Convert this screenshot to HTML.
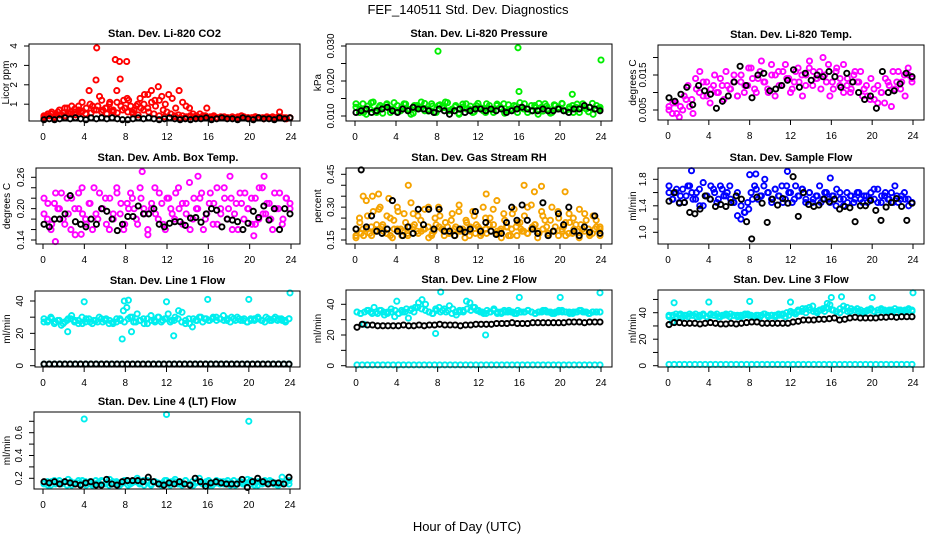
<!DOCTYPE html>
<html><head><meta charset="utf-8">
<style>
html,body{margin:0;padding:0;background:#fff;}
svg{display:block;font-family:"Liberation Sans",sans-serif;}
</style></head>
<body>
<svg id="fig" width="936" height="540" viewBox="0 0 936 540" xmlns="http://www.w3.org/2000/svg">
<text x="468" y="14" text-anchor="middle" font-size="13">FEF_140511  Std. Dev. Diagnostics</text>
<text x="467" y="531" text-anchor="middle" font-size="13">Hour of Day (UTC)</text>
</svg>
<script>
// ---------- data ----------
const xTicks = [0,4,8,12,16,20,24];

const co2Red = [0.35,0.4,0.5,0.3,0.6,0.45,0.8,0.5,0.9,0.6,0.7,1.1,0.5,1.7,0.9,2.25,1.4,0.7,0.8,1.1,0.6,1.7,2.3,1.2,1.3,0.9,0.7,1.0,0.8,1.5,1.5,1.7,1.2,1.9,1.4,1.0,1.5,1.3,0.8,1.7,1.1,0.9,0.8,0.5,0.4,0.5,0.4,0.8,0.35,0.4,0.3,0.3,0.35,0.3,0.3,0.3,0.35,0.4,0.3,0.3,0.3,0.35,0.3,0.3,0.3,0.3,0.35,0.3,0.6,0.3,0.25,0.3];
const co2RedBase = [0.3,0.4,0.35,0.45,0.4,0.5,0.45,0.6,0.5,0.55,0.7,0.6,0.5,0.65,0.55,0.7,0.6,0.5,0.45,0.7,0.6,0.5,0.4,0.35,0.3,0.35,0.3,0.3,0.35,0.3,0.3,0.3,0.3,0.3,0.3,0.3,0.3,0.3,0.3,0.3,0.3,0.3,0.25,0.3,0.3,0.3,0.3,0.3];
const co2RedB = [0.4,0.5,0.6,0.45,0.7,0.55,0.8,0.6,0.75,0.9,0.65,0.8,1.0,0.7,0.9,1.2,0.8,1.0,0.7,1.1,0.9,0.8,1.2,0.6,0.9,1.3,1.0,0.8,1.1,0.9,1.2,0.7,0.6,0.5,0.4,0.45,0.4,0.35,0.4,0.35,0.3,0.35,0.4,0.3,0.35,0.3,0.35,0.3,0.3,0.35,0.3,0.3,0.35,0.3,0.3,0.35,0.3,0.3,0.35,0.3,0.3,0.35,0.3,0.3,0.3];
const co2OutT = [5.2,7.0,7.4,8.1];
const co2OutV = [3.9,3.3,3.2,3.2];
const co2Black = [0.2,0.25,0.2,0.25,0.3,0.25,0.3,0.25,0.2,0.3,0.25,0.3,0.25,0.3,0.25,0.2,0.2,0.25,0.3,0.25,0.3,0.25,0.2,0.25,0.3,0.25,0.2,0.25,0.2,0.25,0.25,0.3,0.2,0.25,0.3,0.25,0.25,0.2,0.3,0.25,0.2,0.3,0.25,0.25,0.2,0.3,0.25,0.3];

const presGreen = [0.0125,0.011,0.0135,0.0105,0.012,0.014,0.011,0.013,0.0125,0.0135,0.011,0.012,0.013,0.0115,0.0135,0.012,0.0105,0.013,0.0125,0.014,0.0115,0.012,0.0135,0.011,0.013,0.0125,0.014,0.0115,0.012,0.013,0.0105,0.0125,0.0135,0.012,0.011,0.013,0.0125,0.0115,0.0135,0.012,0.011,0.013,0.0125,0.0135,0.0115,0.012,0.013,0.011,0.0125,0.0135,0.012,0.0115,0.013,0.0105,0.0125,0.0135,0.012,0.011,0.013,0.0125,0.0135,0.0115,0.012,0.013,0.0125,0.011,0.0135,0.012,0.0125,0.0105,0.013,0.012];
const presGreenB = [0.0135,0.012,0.011,0.0128,0.0138,0.0115,0.0125,0.0108,0.0132,0.012,0.0138,0.0112,0.0126,0.0134,0.0118,0.0108,0.013,0.0122,0.0136,0.0114,0.0128,0.011,0.0132,0.0124,0.0138,0.0116,0.0126,0.0108,0.0134,0.012,0.0128,0.0112,0.0136,0.0122,0.011,0.013,0.0118,0.0134,0.0124,0.0108,0.0132,0.0116,0.0128,0.0138,0.012,0.011,0.013,0.0124,0.0136,0.0114,0.0128,0.0108,0.0132,0.012,0.0136,0.0116,0.0126,0.011,0.0134,0.0122,0.0128,0.0112,0.0136,0.012,0.0125];
const presOutT = [8.1,15.9,16.0,21.2,24.0];
const presOutV = [0.0285,0.0295,0.017,0.0162,0.026];
const presBlack = [0.011,0.0115,0.012,0.011,0.0115,0.012,0.0125,0.0115,0.011,0.012,0.0115,0.0125,0.012,0.012,0.0115,0.011,0.012,0.0115,0.0105,0.0115,0.012,0.011,0.0115,0.012,0.012,0.0115,0.012,0.0115,0.012,0.011,0.0115,0.012,0.0125,0.012,0.0115,0.0115,0.012,0.0115,0.0115,0.012,0.0115,0.011,0.012,0.012,0.013,0.0125,0.012,0.0115];

const tempMag = [0.006,0.004,0.007,0.003,0.005,0.008,0.006,0.004,0.011,0.016,0.009,0.013,0.007,0.012,0.010,0.014,0.008,0.012,0.011,0.015,0.009,0.013,0.010,0.012,0.017,0.011,0.014,0.019,0.013,0.010,0.015,0.009,0.016,0.012,0.018,0.014,0.011,0.016,0.013,0.009,0.015,0.017,0.012,0.014,0.016,0.020,0.013,0.009,0.011,0.017,0.014,0.018,0.012,0.010,0.015,0.013,0.016,0.011,0.009,0.014,0.008,0.012,0.010,0.007,0.013,0.006,0.011,0.016,0.013,0.009,0.015,0.014];
const tempMagB = [0.005,0.007,0.004,0.006,0.009,0.012,0.008,0.014,0.010,0.013,0.009,0.011,0.015,0.010,0.012,0.016,0.011,0.013,0.009,0.015,0.012,0.017,0.014,0.010,0.016,0.013,0.011,0.018,0.015,0.012,0.016,0.014,0.010,0.013,0.017,0.015,0.012,0.019,0.016,0.014,0.011,0.015,0.018,0.013,0.016,0.012,0.010,0.014,0.011,0.016,0.013,0.009,0.012,0.008,0.011,0.007,0.010,0.014,0.012,0.016,0.013,0.011,0.015,0.017,0.013];
const tempBlack = [0.0085,0.0075,0.0095,0.0115,0.0065,0.012,0.0105,0.0095,0.0055,0.0075,0.009,0.013,0.0175,0.012,0.0085,0.015,0.0155,0.0105,0.011,0.012,0.0135,0.0165,0.0115,0.0155,0.0135,0.015,0.0145,0.016,0.0145,0.0115,0.0155,0.013,0.010,0.008,0.009,0.0055,0.016,0.010,0.0105,0.0125,0.0155,0.0145];

const ambMag = [0.22,0.18,0.16,0.21,0.2,0.23,0.17,0.19,0.22,0.15,0.2,0.24,0.18,0.21,0.16,0.19,0.23,0.2,0.17,0.22,0.18,0.24,0.19,0.16,0.21,0.23,0.2,0.17,0.22,0.19,0.15,0.2,0.24,0.18,0.21,0.16,0.22,0.19,0.23,0.2,0.17,0.21,0.25,0.18,0.2,0.22,0.16,0.19,0.23,0.21,0.17,0.2,0.24,0.18,0.22,0.19,0.16,0.21,0.23,0.2,0.17,0.22,0.18,0.24,0.19,0.21,0.16,0.2,0.23,0.18,0.22,0.2];
const ambMagB = [0.19,0.21,0.17,0.23,0.2,0.18,0.22,0.16,0.2,0.23,0.19,0.17,0.21,0.24,0.18,0.2,0.22,0.16,0.19,0.23,0.21,0.17,0.2,0.22,0.18,0.24,0.2,0.16,0.21,0.19,0.23,0.17,0.22,0.2,0.18,0.24,0.21,0.19,0.16,0.22,0.2,0.23,0.18,0.21,0.17,0.24,0.19,0.22,0.2,0.16,0.21,0.23,0.18,0.2,0.22,0.17,0.24,0.19,0.21,0.18,0.23,0.2,0.17,0.22,0.21];
const ambOutT = [1.2,3.7,9.6,15.0,18.1,20.4,21.4];
const ambOutV = [0.137,0.151,0.271,0.262,0.262,0.148,0.262];
const ambBlack = [0.17,0.165,0.18,0.18,0.19,0.225,0.175,0.17,0.165,0.18,0.17,0.2,0.195,0.18,0.158,0.17,0.185,0.185,0.205,0.19,0.19,0.2,0.17,0.165,0.172,0.175,0.175,0.168,0.182,0.183,0.174,0.19,0.2,0.197,0.165,0.18,0.178,0.175,0.16,0.172,0.195,0.183,0.205,0.178,0.2,0.16,0.2,0.19];

const rhOrange = [0.17,0.25,0.2,0.33,0.18,0.28,0.22,0.3,0.19,0.26,0.17,0.24,0.3,0.2,0.27,0.18,0.32,0.22,0.26,0.19,0.29,0.21,0.17,0.25,0.3,0.2,0.23,0.18,0.27,0.21,0.31,0.19,0.24,0.17,0.28,0.22,0.2,0.3,0.18,0.25,0.22,0.33,0.19,0.27,0.21,0.17,0.29,0.23,0.2,0.26,0.18,0.31,0.22,0.19,0.28,0.24,0.17,0.3,0.21,0.25,0.19,0.23,0.27,0.18,0.22,0.29,0.2,0.24,0.17,0.26,0.21,0.2];
const rhOrangeLow = [0.16,0.18,0.2,0.17,0.19,0.21,0.18,0.16,0.2,0.19,0.17,0.21,0.18,0.2,0.16,0.19,0.21,0.17,0.18,0.2,0.19,0.16,0.21,0.18,0.17,0.2,0.19,0.18,0.16,0.21,0.2,0.17,0.19,0.18,0.21,0.16,0.2,0.18,0.19,0.17,0.21,0.18,0.2,0.16,0.19,0.18,0.2,0.17];
const rhOrangeB = [0.2,0.23,0.17,0.26,0.21,0.19,0.29,0.22,0.18,0.25,0.2,0.28,0.17,0.23,0.21,0.27,0.19,0.24,0.2,0.3,0.18,0.22,0.26,0.19,0.21,0.24,0.17,0.28,0.2,0.23,0.19,0.26,0.21,0.18,0.25,0.22,0.29,0.19,0.2,0.24,0.17,0.27,0.21,0.23,0.19,0.3,0.2,0.22,0.18,0.26,0.21,0.24,0.19,0.28,0.2,0.17,0.23,0.25,0.19,0.22,0.27,0.2,0.18,0.24,0.21];
const rhOutT = [5.2,12.8,16.5,17.5,18.2,20.5,0.8,1.7,2.3,3.3];
const rhOutV = [0.4,0.36,0.4,0.37,0.395,0.37,0.35,0.35,0.36,0.34];
const rhBlack = [0.2,0.47,0.21,0.26,0.19,0.18,0.2,0.33,0.19,0.17,0.21,0.18,0.29,0.22,0.29,0.2,0.29,0.19,0.19,0.17,0.2,0.185,0.2,0.28,0.19,0.23,0.19,0.175,0.18,0.23,0.3,0.24,0.31,0.24,0.2,0.18,0.32,0.17,0.19,0.27,0.22,0.3,0.19,0.17,0.21,0.185,0.26,0.18];

const flowBlue = [1.7,1.5,1.6,1.45,1.65,1.55,1.7,1.5,1.6,1.4,1.75,1.55,1.5,1.65,1.45,1.7,1.55,1.6,1.5,1.45,1.25,1.2,1.3,1.45,1.6,1.7,1.5,1.55,1.8,1.6,1.45,1.65,1.55,1.7,1.5,1.6,1.45,1.7,1.55,1.65,1.5,1.6,1.45,1.55,1.7,1.5,1.6,1.45,1.55,1.65,1.5,1.4,1.6,1.55,1.45,1.6,1.5,1.55,1.45,1.6,1.5,1.65,1.45,1.55,1.5,1.6,1.7,1.45,1.55,1.5,1.4,1.45];
const flowBlueB = [1.6,1.5,1.65,1.55,1.45,1.7,1.6,1.5,1.65,1.4,1.55,1.7,1.6,1.5,1.65,1.55,1.7,1.45,1.6,1.4,1.3,1.35,1.5,1.65,1.55,1.7,1.6,1.5,1.65,1.55,1.45,1.7,1.6,1.5,1.55,1.65,1.45,1.6,1.5,1.55,1.45,1.6,1.5,1.55,1.4,1.6,1.5,1.45,1.55,1.5,1.6,1.45,1.55,1.5,1.65,1.45,1.55,1.6,1.5,1.45,1.55,1.5,1.6,1.5,1.45];
const flowOutT = [2.3,11.7,8.0,8.6,15.9];
const flowOutV = [1.93,1.92,1.87,1.88,1.82];
const flowBlack = [1.47,1.6,1.44,1.45,1.3,1.28,1.35,1.55,1.5,1.39,1.42,1.39,1.45,1.55,1.5,1.16,0.9,1.53,1.44,1.15,1.5,1.41,1.51,1.44,1.84,1.24,1.6,1.42,1.39,1.41,1.5,1.46,1.5,1.35,1.39,1.37,1.16,1.4,1.4,1.48,1.33,1.18,1.38,1.45,1.51,1.39,1.18,1.44];

const l1CyanHi = [29,27,30,26,28,25,27,29,31,28,26,30,27,29,26,28,30,27,29,28,26,27,29,34,36,30,27,32,28,26,29,31,28,30,27,29,32,28,30,34,33,26,29,24,28,30,27,29,28,30,28,29,31,28,27,29,30,28,29,27,28,29,30,28,27,29,28,30,29,28,27,29];
const l1CyanB = [27,28,29,27,28,26,28,29,27,28,26,29,27,28,27,29,28,26,27,29,28,27,29,30,27,28,29,26,28,27,30,28,29,27,28,29,27,28,26,29,28,30,29,28,29,30,29,28,29,30,28,29,28,27,29,28,29,28,30,28,29,28,29,28,29];
const l1OutT = [2.4,4.0,7.7,7.9,8.3,8.6,12.0,12.7,16.0,20.0,24.0];
const l1OutV = [21,39.5,16.5,40,40.5,21,39.5,18.5,41,41,45];
const l1Low = [1,1,1,1,1,1,1,1,1,1,1,1,1,1,1,1,1,1,1,1,1,1,1,1,1,1,1,1,1,1,1,1,1,1,1,1,1,1,1,1,1,1,1,1,1,1,1,1];

const l2CyanHi = [35,34,27,36,35,38,34,36,33,35,37,32,34,36,35,31,37,38,41,43,40,35,34,37,38,36,35,39,37,33,35,36,42,41,38,36,35,34,36,35,37,34,35,36,35,35,34,36,35,35,36,35,34,35,35,36,35,34,35,36,35,35,35,34,35,36,35,35,34,35,35,35];
const l2CyanB = [35,34,35,36,34,35,36,35,34,35,36,34,35,37,36,35,38,37,36,35,34,36,35,37,36,34,35,36,35,37,36,38,36,35,34,35,36,35,34,35,36,35,34,35,35,36,35,34,35,36,35,35,34,35,36,35,34,35,35,36,35,34,35,35,35];
const l2OutT = [4.0,7.8,8.3,12.7,16.0,20.0,23.9];
const l2OutV = [42,21,48,20,44.5,44.5,47.5];
const l2Low = [0.5,0.5,0.5,0.5,0.5,0.5,0.5,0.5,0.5,0.5,0.5,0.5,0.5,0.5,0.5,0.5,0.5,0.5,0.5,0.5,0.5,0.5,0.5,0.5,0.5,0.5,0.5,0.5,0.5,0.5,0.5,0.5,0.5,0.5,0.5,0.5,0.5,0.5,0.5,0.5,0.5,0.5,0.5,0.5,0.5,0.5,0.5,0.5];
const l2Black = [25,27,26.5,26.5,26,26,26,26,26,26.5,26,26,26.5,26,26.5,26.5,27,26.5,26.5,26.5,26,26.5,26.5,27,27,27,27,27.5,27.5,27.5,28,27.5,27.5,27.5,28,28,28,28,28,28,28,28.5,28.5,28.5,28,28.5,28.5,28.5];

const l3CyanHi = [38,33,39,38,37,38,39,38,37,38,39,37,38,38,39,37,38,38,39,38,37,38,38,39,38,37,38,38,39,37,38,38,39,38,37,38,40,39,41,43,40,44,45,41,42,43,44,46,42,41,43,45,44,41,42,43,42,41,42,43,41,42,43,42,41,42,43,42,41,42,43,42];
const l3CyanB = [37,38,37,39,38,37,38,39,37,38,37,39,38,37,38,39,37,38,38,37,39,38,37,38,37,39,38,38,37,38,39,40,41,40,42,41,43,42,41,40,42,41,43,42,41,40,42,41,43,42,41,40,41,42,41,40,42,41,42,41,40,42,41,42,41];
const l3OutT = [0.6,4.0,8.0,12.0,16.0,17.0,20.0,24.0,15.6];
const l3OutV = [47.5,48,48.5,48,51.5,52,51.5,55,47];
const l3Low = [1,1,1,1,1,1,1,1,1,1,1,1,1,1,1,1,1,1,1,1,1,1,1,1,1,1,1,1,1,1,1,1,1,1,1,1,1,1,1,1,1,1,1,1,1,1,1,1];
const l3Black = [31,32.5,32.5,32,32,32,31.5,32,32.5,32,31.5,31.5,32,31.5,32,32.5,33,33,32,32,32,32,32,32,33,33.5,34.5,34.5,34.5,35,35,35.5,36,34.5,35,36,36.5,36,36,36,36,36.5,36.5,37,36.5,37,37,37];

const l4Cyan = [0.15,0.17,0.14,0.18,0.16,0.15,0.17,0.19,0.14,0.16,0.18,0.15,0.17,0.16,0.14,0.18,0.15,0.17,0.16,0.19,0.15,0.17,0.14,0.16,0.18,0.15,0.17,0.2,0.16,0.14,0.18,0.15,0.17,0.16,0.14,0.18,0.15,0.17,0.19,0.16,0.14,0.18,0.15,0.17,0.16,0.2,0.15,0.17,0.14,0.16,0.18,0.15,0.17,0.16,0.14,0.18,0.15,0.17,0.16,0.19,0.15,0.17,0.14,0.16,0.18,0.15,0.17,0.16,0.14,0.21,0.16,0.18];
const l4CyanB = [0.16,0.14,0.17,0.15,0.18,0.16,0.14,0.17,0.15,0.16,0.18,0.14,0.17,0.15,0.16,0.18,0.15,0.14,0.17,0.16,0.15,0.18,0.14,0.16,0.17,0.15,0.18,0.16,0.14,0.17,0.15,0.16,0.18,0.14,0.17,0.15,0.16,0.18,0.15,0.14,0.17,0.16,0.15,0.18,0.14,0.16,0.17,0.15,0.18,0.16,0.14,0.17,0.15,0.16,0.18,0.14,0.17,0.15,0.16,0.18,0.15,0.14,0.17,0.16,0.15];
const l4OutT = [4.0,12.0,20.0];
const l4OutV = [0.72,0.76,0.7];
const l4Black = [0.17,0.16,0.17,0.15,0.17,0.16,0.15,0.14,0.16,0.17,0.14,0.14,0.19,0.15,0.14,0.17,0.18,0.18,0.18,0.17,0.21,0.17,0.15,0.14,0.16,0.15,0.17,0.15,0.14,0.2,0.17,0.13,0.16,0.17,0.16,0.15,0.15,0.15,0.19,0.12,0.17,0.2,0.17,0.15,0.16,0.16,0.15,0.21];

// ---------- panels ----------
const panels = [
 {name:'co2', title:'Stan. Dev. Li-820 CO2', ylab:'Licor ppm', ylx:9, L:29,T:44,R:300,B:121, x0:43,x24:291, v0:1,p0:104.2,v1:4,p1:46,
  ticks:[[1,'1'],[2,'2'],[3,'3'],[4,'4']],
  series:[[co2RedBase,'#ff0000'],[co2RedB,'#ff0000'],[co2Red,'#ff0000'],[co2Black,'#000']], outT:co2OutT,outV:co2OutV,outC:'#ff0000'},
 {name:'pressure', title:'Stan. Dev. Li-820 Pressure', ylab:'kPa', ylx:321, L:346,T:44,R:612,B:121, x0:355,x24:601, v0:0.010,p0:116,v1:0.030,p1:46,
  ticks:[[0.010,'0.010'],[0.015,''],[0.020,'0.020'],[0.025,''],[0.030,'0.030']],
  series:[[presGreen,'#00ee00'],[presGreenB,'#00ee00'],[presBlack,'#000']], outT:presOutT,outV:presOutV,outC:'#00ee00'},
 {name:'li820-temp', title:'Stan. Dev. Li-820 Temp.', ylab:'degrees C', ylx:636, L:658,T:45,R:924,B:120, x0:668,x24:913, v0:0.005,p0:110,v1:0.015,p1:75,
  ticks:[[0.005,'0.005'],[0.010,''],[0.015,'0.015'],[0.020,'']],
  series:[[tempMag,'#ff00ff'],[tempMagB,'#ff00ff'],[tempBlack,'#000']]},
 {name:'amb-box-temp', title:'Stan. Dev. Amb. Box Temp.', ylab:'degrees C', ylx:10, L:36,T:168,R:300,B:244, x0:43,x24:291, v0:0.14,p0:240,v1:0.26,p1:177.3,
  ticks:[[0.14,'0.14'],[0.16,''],[0.18,''],[0.20,'0.20'],[0.22,''],[0.24,''],[0.26,'0.26']],
  series:[[ambMag,'#ff00ff'],[ambMagB,'#ff00ff'],[ambBlack,'#000']], outT:ambOutT,outV:ambOutV,outC:'#ff00ff'},
 {name:'gas-stream-rh', title:'Stan. Dev. Gas Stream RH', ylab:'percent', ylx:321, L:346,T:168,R:612,B:244, x0:355,x24:601, v0:0.15,p0:240,v1:0.45,p1:174.3,
  ticks:[[0.15,'0.15'],[0.20,''],[0.25,''],[0.30,'0.30'],[0.35,''],[0.40,''],[0.45,'0.45']],
  series:[[rhOrangeLow,'#f5a300'],[rhOrangeB,'#f5a300'],[rhOrange,'#f5a300'],[rhBlack,'#000']], outT:rhOutT,outV:rhOutV,outC:'#f5a300'},
 {name:'sample-flow', title:'Stan. Dev. Sample Flow', ylab:'ml/min', ylx:636, L:658,T:168,R:924,B:244, x0:668,x24:913, v0:1.0,p0:232.3,v1:1.8,p1:179.3,
  ticks:[[1.0,'1.0'],[1.2,''],[1.4,'1.4'],[1.6,''],[1.8,'1.8']],
  series:[[flowBlue,'#0000ff'],[flowBlueB,'#0000ff'],[flowBlack,'#000']], outT:flowOutT,outV:flowOutV,outC:'#0000ff'},
 {name:'line1-flow', title:'Stan. Dev. Line 1 Flow', ylab:'ml/min', ylx:10, L:35,T:291,R:300,B:367, x0:43,x24:290, v0:0,p0:365.7,v1:40,p1:301,
  ticks:[[0,'0'],[10,''],[20,'20'],[30,''],[40,'40']],
  series:[[l1CyanHi,'#00eeee'],[l1CyanB,'#00eeee'],[l1Low,'#00eeee'],[l1Low,'#000']], outT:l1OutT,outV:l1OutV,outC:'#00eeee'},
 {name:'line2-flow', title:'Stan. Dev. Line 2 Flow', ylab:'ml/min', ylx:321, L:346,T:290,R:612,B:367, x0:356,x24:601, v0:0,p0:365.7,v1:40,p1:304.3,
  ticks:[[0,'0'],[10,''],[20,'20'],[30,''],[40,'40']],
  series:[[l2CyanHi,'#00eeee'],[l2CyanB,'#00eeee'],[l2Low,'#00eeee'],[l2Black,'#000']], outT:l2OutT,outV:l2OutV,outC:'#00eeee'},
 {name:'line3-flow', title:'Stan. Dev. Line 3 Flow', ylab:'ml/min', ylx:636, L:658,T:290,R:924,B:367, x0:668,x24:913, v0:0,p0:365.7,v1:40,p1:312.7,
  ticks:[[0,'0'],[10,''],[20,'20'],[30,''],[40,'40'],[50,'']],
  series:[[l3CyanHi,'#00eeee'],[l3CyanB,'#00eeee'],[l3Low,'#00eeee'],[l3Black,'#000']], outT:l3OutT,outV:l3OutV,outC:'#00eeee'},
 {name:'line4-flow', title:'Stan. Dev. Line 4 (LT) Flow', ylab:'ml/min', ylx:10, L:34,T:412,R:300,B:489, x0:43,x24:290, v0:0.2,p0:478.3,v1:0.6,p1:432.7,
  ticks:[[0.2,'0.2'],[0.3,''],[0.4,'0.4'],[0.5,''],[0.6,'0.6'],[0.7,'']],
  series:[[l4Cyan,'#00eeee'],[l4CyanB,'#00eeee'],[l4Black,'#000']], outT:l4OutT,outV:l4OutV,outC:'#00eeee'}
];

const NS='http://www.w3.org/2000/svg';
const svg=document.getElementById('fig');
function mk(tag,attrs,parent){const e=document.createElementNS(NS,tag);for(const k in attrs)e.setAttribute(k,attrs[k]);parent.appendChild(e);return e;}

panels.forEach(p=>{
  const g=mk('g',{},svg);
  
  
  const xs=t=>p.x0+(t/24)*(p.x24-p.x0);
  const ys=v=>p.p0+(v-p.v0)*(p.p1-p.p0)/(p.v1-p.v0);
  const tt=mk('text',{x:(p.L+p.R)/2,y:p.T-7,'text-anchor':'middle','font-size':11,'font-weight':'bold'},g);
  tt.textContent=p.title;
  
  
  const pts=mk('g',{fill:'none'},g);
  
  
  const drawSeries=(vals,col)=>{
    const n=vals.length;
    vals.forEach((v,i)=>{
      const t=0.1+i*(23.8/(n-1));
      const c=mk('circle',{cx:xs(t).toFixed(1),cy:ys(v).toFixed(1),r:2.6,stroke:col,'stroke-width':1.9},pts);
      
      
    });
  };
  const colored=p.series.filter(s=>s[1]!=='#000');
  const blacks=p.series.filter(s=>s[1]==='#000');
  colored.forEach(s=>drawSeries(s[0],s[1]));
  if(p.outT){p.outT.forEach((t,i)=>{
    const c=mk('circle',{cx:xs(t).toFixed(1),cy:ys(p.outV[i]).toFixed(1),r:2.6,stroke:p.outC,'stroke-width':1.9},pts);
    
    
  });}
  blacks.forEach(s=>drawSeries(s[0],s[1]));
  const box=mk('rect',{x:p.L,y:p.T,width:p.R-p.L,height:p.B-p.T,fill:'none',stroke:'#000','stroke-width':1},g);
  
  
  const xa=mk('g',{},g);
  
  
  xTicks.forEach(t=>{
    const x=xs(t);
    mk('line',{x1:x,y1:p.B,x2:x,y2:p.B+5,stroke:'#000'},xa);
    const lb=mk('text',{x:x,y:p.B+19,'text-anchor':'middle','font-size':10},xa);
    lb.textContent=t;
    
    
  });
  const ya=mk('g',{},g);
  
  
  p.ticks.forEach(tk=>{
    const y=ys(tk[0]);
    mk('line',{x1:p.L-5,y1:y,x2:p.L,y2:y,stroke:'#000'},ya);
    if(tk[1]){
      const lx=p.L-12;
      const lb=mk('text',{x:lx,y:y,'text-anchor':'middle','font-size':10,transform:`rotate(-90 ${lx} ${y})`},ya);
      lb.textContent=tk[1];
      
      
    }
  });
  const yx=p.ylx, ym=(p.T+p.B)/2;
  const yl=mk('text',{x:yx,y:ym,'text-anchor':'middle','font-size':10,transform:`rotate(-90 ${yx} ${ym})`},g);
  yl.textContent=p.ylab;
  
  
});
</script>
</body></html>
